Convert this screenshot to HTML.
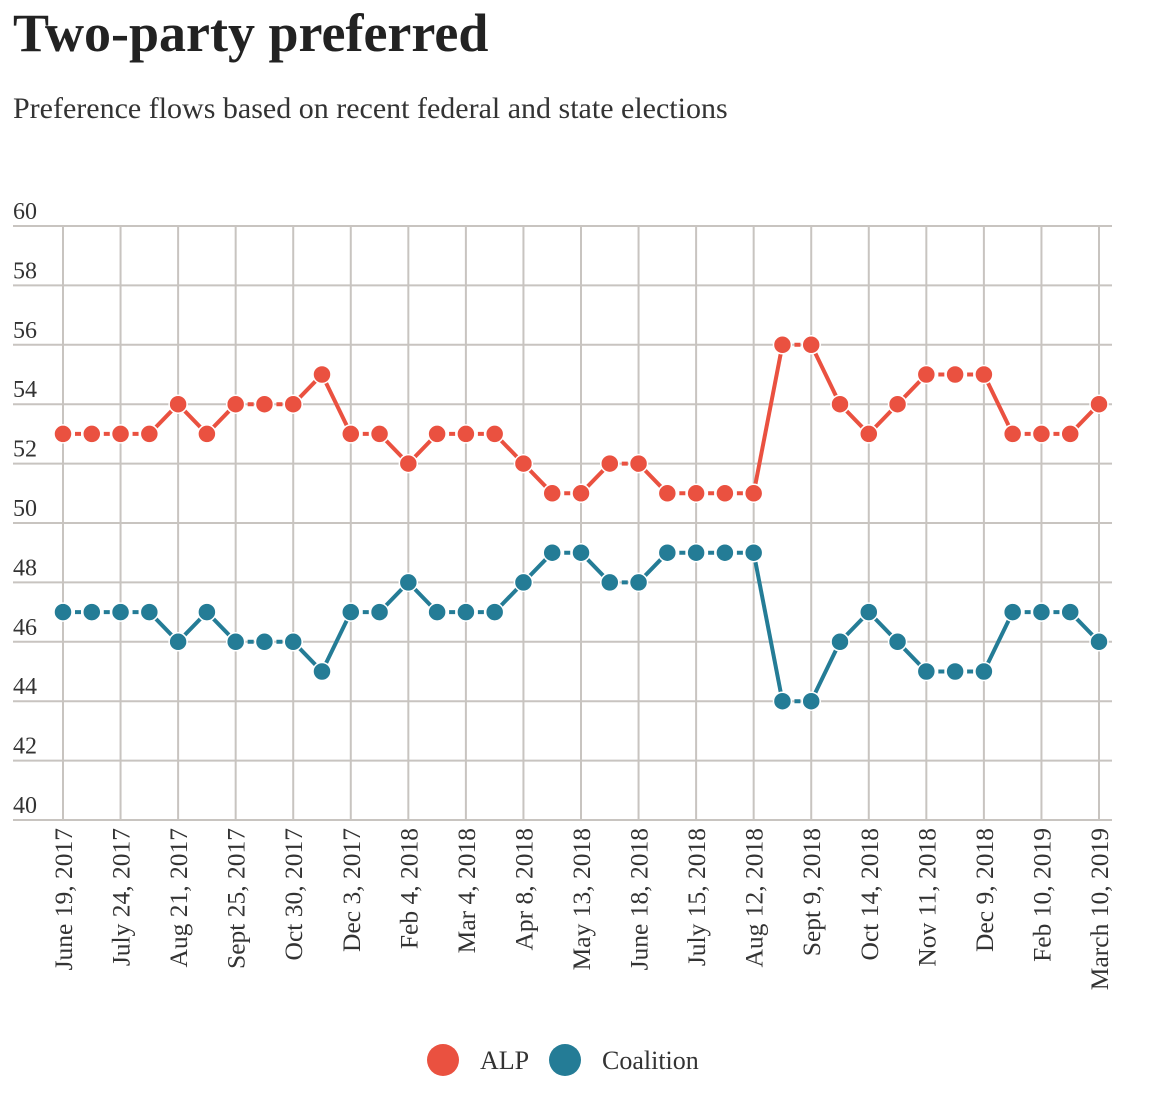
<!DOCTYPE html>
<html><head><meta charset="utf-8"><style>
body{margin:0;background:#fff;width:1154px;height:1107px;overflow:hidden;font-family:"Liberation Serif",serif;color:#222}
h1{position:absolute;left:13px;top:2px;margin:0;font-size:54px;font-weight:bold}
p{position:absolute;left:13px;top:92px;margin:0;font-size:30px;color:#333}
svg{position:absolute;left:0;top:0}
</style></head><body>
<h1>Two-party preferred</h1>
<p>Preference flows based on recent federal and state elections</p>
<svg id="c" width="1154" height="1107"></svg>
<script>
const alp=[53,53,53,53,54,53,54,54,54,55,53,53,52,53,53,53,52,51,51,52,52,51,51,51,51,56,56,54,53,54,55,55,55,53,53,53,54];
const coalition=[47,47,47,47,46,47,46,46,46,45,47,47,48,47,47,47,48,49,49,48,48,49,49,49,49,44,44,46,47,46,45,45,45,47,47,47,46];
const xLabels=["June 19, 2017","July 24, 2017","Aug 21, 2017","Sept 25, 2017","Oct 30, 2017","Dec 3, 2017","Feb 4, 2018","Mar 4, 2018","Apr 8, 2018","May 13, 2018","June 18, 2018","July 15, 2018","Aug 12, 2018","Sept 9, 2018","Oct 14, 2018","Nov 11, 2018","Dec 9, 2018","Feb 10, 2019","March 10, 2019"];
const yTicks=[40,42,44,46,48,50,52,54,56,58,60];
const NS="http://www.w3.org/2000/svg",svg=document.getElementById('c');
const x0=63,x1=1099,y0=820,y1=226;
const xs=i=>x0+(x1-x0)*i/(alp.length-1);
const ys=v=>y0-(v-40)/20*(y0-y1);
function mk(t,a,p){const e=document.createElementNS(NS,t);for(const k in a)e.setAttribute(k,a[k]);(p||svg).appendChild(e);return e;}
yTicks.forEach(v=>{
 const l=mk('line',{x1:13,x2:1112,y1:ys(v),y2:ys(v),stroke:'#c8c4c0','stroke-width':2});
 
 
 const t=mk('text',{x:13,y:ys(v)-7,'font-size':24,fill:'#333','font-family':'Liberation Serif, serif'});
 t.textContent=v;
 
 
});
xLabels.forEach((s,j)=>{
 const x=xs(j*2);
 const l=mk('line',{x1:x,x2:x,y1:y1,y2:y0,stroke:'#c8c4c0','stroke-width':2});
 
 
 const t=mk('text',{x:0,y:0,'font-size':25.5,fill:'#333','text-anchor':'end','font-family':'Liberation Serif, serif',transform:`translate(${x+9},${y0+8}) rotate(-90)`});
 t.textContent=s;
 
 
});
function series(d,c,n){
 for(let i=0;i<d.length-1;i++){
  const l=mk('line',{x1:xs(i),y1:ys(d[i]),x2:xs(i+1),y2:ys(d[i+1]),stroke:c,'stroke-width':4,'stroke-dasharray':d[i]===d[i+1]?'6 6':'none'});
  
  
 }
 d.forEach((v,i)=>{
  const p=mk('circle',{cx:xs(i),cy:ys(v),r:9,fill:c,stroke:'#fff','stroke-width':1.5});
  
  
 });
}
series(alp,'#ea5140','alp');
series(coalition,'#247c96','coalition');
[[443,'#ea5140','ALP','alp'],[565,'#247c96','Coalition','coalition']].forEach(([x,c,s,n])=>{
 const g=mk('g',{});
 
 
 mk('circle',{cx:x,cy:1060,r:16,fill:c},g);
 const t=mk('text',{x:x+37,y:1069,'font-size':26,fill:'#333','font-family':'Liberation Serif, serif'},g);
 t.textContent=s;
});
</script>
</body></html>
